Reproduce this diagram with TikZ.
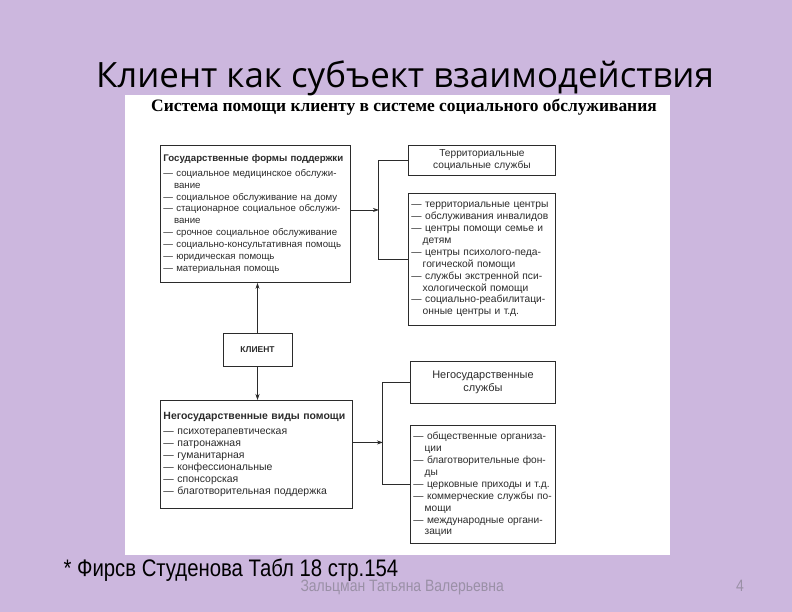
\documentclass[tikz,border=0pt]{standalone}
\usepackage{fontspec}
\setmainfont{Liberation Serif}
\newfontfamily\titlefont{Open Sans}
\newfontfamily\boxfont{Liberation Sans}
\newfontfamily\narrowfont[FakeStretch=0.85]{Liberation Sans}
\usetikzlibrary{arrows.meta, positioning}
\definecolor{slidebg}{HTML}{CCB7DE}
\definecolor{ink}{HTML}{2B2B2B}
\definecolor{footgray}{HTML}{9A90A6}

\begin{document}
\begin{tikzpicture}[x=1bp, y=-1bp,
  box/.style={draw=ink, line width=0.9pt, fill=white, inner sep=3bp,
              text=ink, font=\boxfont\fontsize{10.2}{12}\selectfont},
  listbox/.style={box, anchor=north west, align=left},
  arr/.style={-{Stealth[length=6pt, width=4pt]}, draw=ink, line width=0.8pt},
  link/.style={draw=ink, line width=0.9pt}
]
  \useasboundingbox (0,0) rectangle (792,612);
  \fill[slidebg] (0,0) rectangle (792,612);
  \fill[white] (125,95) rectangle (670,555);

  % Slide title and table heading
  \node[font=\titlefont\fontsize{35}{40}\selectfont, text=black] (title)
    at (405,78) {Клиент как субъект взаимодействия};
  \node[font=\bfseries\fontsize{17.5}{20}\selectfont] (head)
    at (404,107) {Система помощи клиенту в системе социального обслуживания};

  % State forms of support
  \node[listbox, text width=184bp, minimum height=137bp,
        font=\boxfont\fontsize{9.7}{12}\selectfont] (gos) at (160,145)
    {{\bfseries Государственные формы поддержки}\\[3bp]
     — социальное медицинское обслужи-\\
     \hspace*{1.1em}вание\\
     — социальное обслуживание на дому\\
     — стационарное социальное обслужи-\\
     \hspace*{1.1em}вание\\
     — срочное социальное обслуживание\\
     — социально-консультативная помощь\\
     — юридическая помощь\\
     — материальная помощь};

  % Territorial services
  \node[box, anchor=north west, text width=141bp, minimum height=30bp,
        align=center] (terr) at (408,145) {Территориальные\\социальные службы};
  \node[listbox, text width=141bp, minimum height=132bp,
        font=\boxfont\fontsize{10.3}{12}\selectfont] (terrlist) at (408,193)
    {— территориальные центры\\
     — обслуживания инвалидов\\
     — центры помощи семье и\\
     \hspace*{1.1em}детям\\
     — центры психолого-педа-\\
     \hspace*{1.1em}гогической помощи\\
     — службы экстренной пси-\\
     \hspace*{1.1em}хологической помощи\\
     — социально-реабилитаци-\\
     \hspace*{1.1em}онные центры и т.д.};

  % Client
  \node[box, minimum width=69bp, minimum height=33bp,
        font=\boxfont\bfseries\fontsize{8.5}{10}\selectfont] (client)
    at (257.5,349.5) {КЛИЕНТ};

  % Non-state kinds of help
  \node[listbox, text width=186bp, minimum height=108bp,
        font=\boxfont\fontsize{10.5}{12.2}\selectfont] (ng) at (160,400)
    {{\bfseries Негосударственные виды помощи}\\[3bp]
     — психотерапевтическая\\
     — патронажная\\
     — гуманитарная\\
     — конфессиональные\\
     — спонсорская\\
     — благотворительная поддержка};

  % Non-state services
  \node[box, anchor=north west, text width=139bp, minimum height=42bp,
        align=center, font=\boxfont\fontsize{11}{13}\selectfont] (ngserv)
    at (410,361) {Негосударственные\\службы};
  \node[listbox, text width=139bp, minimum height=118bp] (nglist) at (410,425)
    {— общественные организа-\\
     \hspace*{1.1em}ции\\
     — благотворительные фон-\\
     \hspace*{1.1em}ды\\
     — церковные приходы и т.д.\\
     — коммерческие службы по-\\
     \hspace*{1.1em}мощи\\
     — международные органи-\\
     \hspace*{1.1em}зации};

  % Connectors
  \draw[arr] (client.north) -- (client.north |- gos.south);
  \draw[arr] (client.south) -- (client.south |- ng.north);

  \draw[arr] ([yshift=4bp]gos.east) -- ++(28,0) coordinate (jgos);
  \draw[link] (terr.west) -| (jgos) |- (terrlist.west);

  \draw[arr] ([yshift=12bp]ng.east) -- ++(30,0) coordinate (jng);
  \draw[link] (ngserv.west) -| (jng) |- (nglist.west);

  % Footer
  \node[anchor=base west, font=\narrowfont\fontsize{24}{28}\selectfont] (src)
    at (60,576) {* Фирсв Студенова Табл 18 стр.154};
  \node[anchor=base west, font=\narrowfont\fontsize{16.5}{19}\selectfont,
        text=footgray] (author) at (297,591) {Зальцман Татьяна Валерьевна};
  \node[anchor=base, font=\narrowfont\fontsize{16.5}{19}\selectfont,
        text=footgray] (pagenum) at (740,591) {4};
\end{tikzpicture}
\end{document}
